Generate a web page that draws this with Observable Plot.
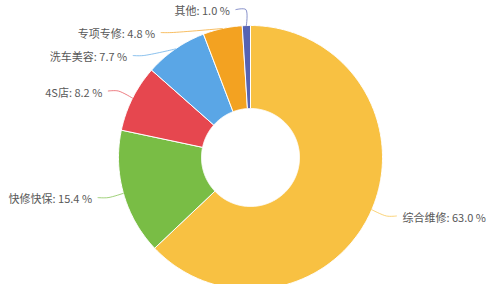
<!DOCTYPE html>
<html>
<head>
<meta charset="utf-8">
<script src="https://cdn.jsdelivr.net/npm/d3@7"></script>
<script src="https://cdn.jsdelivr.net/npm/@observablehq/plot@0.6"></script>
<style>
  html, body { margin: 0; padding: 0; background: #fff; }
  #chart svg { display: block; }
</style>
</head>
<body>
<div id="chart"></div>
<script>
// Market share by repair channel (%), clockwise from 12 o'clock
const categories = ["综合维修", "快修快保", "4S店", "洗车美容", "专项专修", "其他"];
const shares = [63.0, 15.4, 8.2, 7.7, 4.8, 1.0];
const colors = ["#f8c142", "#79bd45", "#e6474f", "#5aa6e6", "#f3a221", "#5663b3"];

// Donut geometry in scale units (1 unit = 1px with the domains below)
const outerR = 132, innerR = 49;
const labelR = 148, elbow = 10, labelGap = 23;

const arcs = d3.pie().sort(null).value(d => d)(shares);
const pt = (r, a) => ({x: r * Math.sin(a), y: r * Math.cos(a)});

// Closed ring-segment outline for each slice
const polys = arcs.map(a => {
  const n = Math.max(2, Math.ceil((a.endAngle - a.startAngle) / 0.01));
  const pts = [];
  for (let k = 0; k <= n; k++) pts.push(pt(outerR, a.startAngle + (a.endAngle - a.startAngle) * k / n));
  for (let k = n; k >= 0; k--) pts.push(pt(innerR, a.startAngle + (a.endAngle - a.startAngle) * k / n));
  pts.push(pts[0]);
  return pts;
});

// Label layout: radial start, avoid overlaps per side, then slide back onto the label circle
const labels = arcs.map((a, i) => {
  const mid = (a.startAngle + a.endAngle) / 2;
  const p = pt(labelR, mid);
  return {i, mid, side: p.x < 0 ? -1 : 1, y: p.y,
          text: `${categories[i]}: ${shares[i].toFixed(1)} %`};
});
for (const side of [-1, 1]) {
  const group = labels.filter(l => l.side === side).sort((a, b) => b.y - a.y);
  for (let k = 1; k < group.length; k++) {
    if (group[k].y > group[k - 1].y - labelGap) group[k].y = group[k - 1].y - labelGap;
  }
}
for (const l of labels) {
  const yy = Math.max(-labelR, Math.min(labelR, l.y));
  l.x = l.side * Math.sqrt(labelR * labelR - yy * yy);
  l.ex = l.x + l.side * elbow;
  l.tx = l.ex + l.side * 6;
}
const leaders = labels.map(l => {
  const s = pt(outerR, l.mid);
  return [s, {x: l.x, y: l.y}, {x: l.ex, y: l.y}];
});

const textStyle = {
  x: "tx", y: "y", text: "text", dy: 2,
  fill: "#585858", fontSize: 11, lineAnchor: "middle",
  fontFamily: "'Noto Sans CJK SC', 'Noto Sans', sans-serif"
};

const chart = Plot.plot({
  width: 504,
  height: 284,
  margin: 0,
  x: {domain: [-250, 254], axis: null},
  y: {domain: [-127, 157], axis: null},
  marks: [
    ...polys.map((p, i) => Plot.line(p, {x: "x", y: "y", fill: colors[i], stroke: "white", strokeWidth: 1, curve: "linear"})),
    ...leaders.map((p, k) => Plot.line(p, {x: "x", y: "y", stroke: colors[labels[k].i], strokeOpacity: 0.7, strokeWidth: 1, curve: "catmull-rom"})),
    Plot.text(labels.filter(l => l.side < 0), {...textStyle, textAnchor: "end"}),
    Plot.text(labels.filter(l => l.side > 0), {...textStyle, textAnchor: "start"})
  ]
});
document.getElementById("chart").append(chart);
</script>
</body>
</html>
